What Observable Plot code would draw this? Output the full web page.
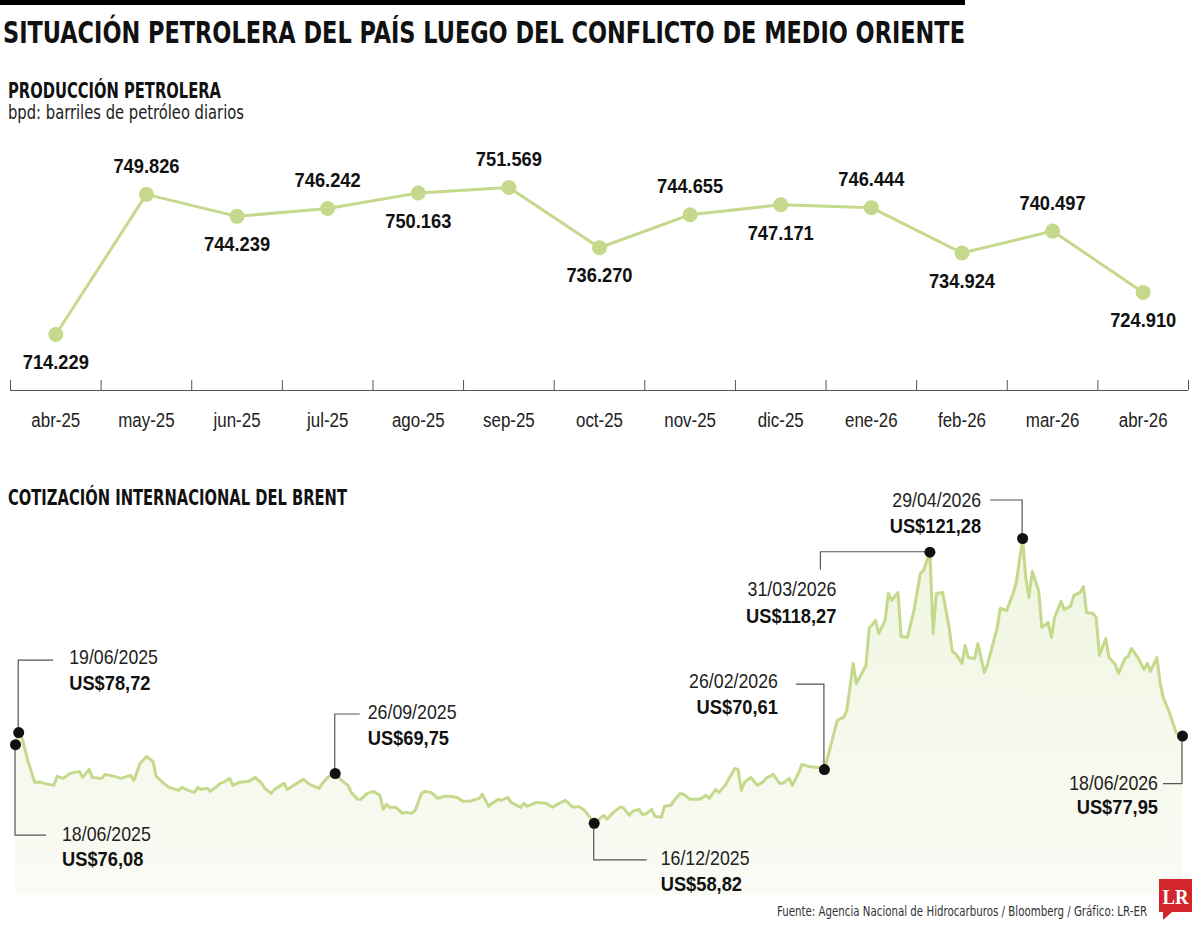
<!DOCTYPE html>
<html lang="es">
<head>
<meta charset="utf-8">
<title>Situación petrolera del país</title>
<script src="https://cdn.jsdelivr.net/npm/d3@7"></script>
<script src="https://cdn.jsdelivr.net/npm/@observablehq/plot@0.6"></script>
<style>
  html, body { margin: 0; padding: 0; background: #fff; }
  #chart { position: relative; width: 1200px; height: 929px; overflow: hidden; }
  #chart svg { position: absolute; left: 0; top: 0; }
</style>
</head>
<body>
<div id="chart"></div>
<script>
const HEAD_FONT = '"DejaVu Sans Condensed", "Liberation Sans Narrow", sans-serif';
const FONT = '"Liberation Sans", Arial, sans-serif';
const GREEN = "#c5d98c";
const INK = "#111";

// Monthly oil production, barrels per day
const months = ["abr-25", "may-25", "jun-25", "jul-25", "ago-25", "sep-25", "oct-25",
                "nov-25", "dic-25", "ene-26", "feb-26", "mar-26", "abr-26"];
const production = [714229, 749826, 744239, 746242, 750163, 751569, 736270,
                    744655, 747171, 746444, 734924, 740497, 724910];

// Brent quotes, US$ per barrel
const brentDates = [
  "2025-06-18","2025-06-19","2025-06-20","2025-06-22","2025-06-24","2025-06-26","2025-06-27","2025-06-30",
  "2025-07-01","2025-07-03","2025-07-05","2025-07-08","2025-07-09","2025-07-11","2025-07-12","2025-07-15",
  "2025-07-16","2025-07-19","2025-07-21","2025-07-22","2025-07-24","2025-07-25","2025-07-27","2025-07-29",
  "2025-07-31","2025-08-01","2025-08-03","2025-08-05","2025-08-08","2025-08-09","2025-08-11","2025-08-13",
  "2025-08-14","2025-08-15","2025-08-17","2025-08-18","2025-08-20","2025-08-21","2025-08-22","2025-08-24",
  "2025-08-25","2025-08-27","2025-08-30","2025-09-01","2025-09-03","2025-09-04","2025-09-06","2025-09-07",
  "2025-09-10","2025-09-11","2025-09-13","2025-09-16","2025-09-18","2025-09-21","2025-09-22","2025-09-24",
  "2025-09-26","2025-09-28","2025-09-30","2025-10-01","2025-10-03","2025-10-04","2025-10-06","2025-10-08",
  "2025-10-10","2025-10-11","2025-10-12","2025-10-13","2025-10-15","2025-10-17","2025-10-18","2025-10-20",
  "2025-10-21","2025-10-23","2025-10-24","2025-10-26","2025-10-28","2025-10-30","2025-11-01","2025-11-03",
  "2025-11-05","2025-11-07","2025-11-09","2025-11-10","2025-11-11","2025-11-13","2025-11-14","2025-11-16",
  "2025-11-17","2025-11-19","2025-11-20","2025-11-23","2025-11-24","2025-11-25","2025-11-28","2025-12-01",
  "2025-12-03","2025-12-05","2025-12-07","2025-12-09","2025-12-10","2025-12-11","2025-12-13","2025-12-16",
  "2025-12-19","2025-12-20","2025-12-22","2025-12-24","2025-12-25","2025-12-27","2025-12-28","2025-12-30",
  "2025-12-31","2026-01-01","2026-01-03","2026-01-04","2026-01-06","2026-01-07","2026-01-09","2026-01-10",
  "2026-01-12","2026-01-13","2026-01-15","2026-01-16","2026-01-18","2026-01-20","2026-01-21","2026-01-23",
  "2026-01-24","2026-01-26","2026-01-27","2026-01-29","2026-01-30","2026-01-31","2026-02-01","2026-02-03",
  "2026-02-05","2026-02-07","2026-02-08","2026-02-09","2026-02-10","2026-02-12","2026-02-13","2026-02-15",
  "2026-02-16","2026-02-18","2026-02-19","2026-02-21","2026-02-24","2026-02-26","2026-02-28","2026-03-02",
  "2026-03-04","2026-03-05","2026-03-07","2026-03-08","2026-03-11","2026-03-12","2026-03-14","2026-03-15",
  "2026-03-17","2026-03-18","2026-03-19","2026-03-21","2026-03-22","2026-03-24","2026-03-26","2026-03-28",
  "2026-03-29","2026-03-31","2026-04-01","2026-04-02","2026-04-04","2026-04-06","2026-04-07","2026-04-08",
  "2026-04-10","2026-04-11","2026-04-12","2026-04-14","2026-04-15","2026-04-17","2026-04-18","2026-04-20",
  "2026-04-21","2026-04-22","2026-04-24","2026-04-26","2026-04-27","2026-04-29","2026-04-30","2026-05-01",
  "2026-05-02","2026-05-04","2026-05-05","2026-05-07","2026-05-08","2026-05-09","2026-05-11","2026-05-12",
  "2026-05-14","2026-05-15","2026-05-17","2026-05-18","2026-05-19","2026-05-21","2026-05-22","2026-05-23",
  "2026-05-25","2026-05-26","2026-05-28","2026-05-29","2026-05-31","2026-06-01","2026-06-02","2026-06-04",
  "2026-06-06","2026-06-07","2026-06-08","2026-06-10","2026-06-11","2026-06-12","2026-06-14","2026-06-16",
  "2026-06-18"
];
const brentValues = [
  76.08, 78.72, 77.67, 72.19, 67.81, 67.81, 67.59, 67.15,
  69.12, 68.68, 69.78, 70.22, 68.90, 70.66, 68.90, 68.68,
  69.56, 69.12, 68.68, 68.90, 69.34, 68.24, 71.97, 73.50,
  72.41, 69.12, 67.81, 66.71, 66.05, 66.71, 66.05, 65.61,
  66.71, 66.27, 66.49, 65.83, 66.93, 67.59, 67.81, 68.68,
  67.15, 67.81, 68.03, 68.90, 67.59, 66.49, 65.40, 66.27,
  67.59, 66.27, 67.15, 68.46, 67.37, 66.49, 67.59, 69.12,
  69.75, 68.24, 67.15, 65.61, 64.08, 64.08, 65.40, 65.83,
  64.96, 61.89, 62.98, 62.33, 62.33, 61.01, 61.23, 61.01,
  61.67, 65.40, 65.83, 65.61, 64.30, 64.74, 64.74, 64.52,
  63.64, 63.64, 64.08, 64.30, 65.18, 62.55, 63.20, 64.08,
  63.86, 64.52, 63.42, 62.33, 63.20, 62.55, 63.42, 63.20,
  62.33, 63.20, 63.86, 62.55, 62.33, 62.55, 61.67, 58.82,
  60.57, 59.70, 61.23, 62.33, 62.33, 60.57, 61.45, 61.89,
  60.79, 60.79, 61.89, 60.35, 60.14, 62.55, 62.77, 63.86,
  65.40, 65.18, 64.08, 64.08, 64.08, 64.96, 64.30, 66.27,
  65.61, 67.15, 68.46, 70.87, 70.66, 66.05, 67.81, 68.90,
  67.15, 68.03, 68.90, 69.12, 69.56, 67.59, 67.59, 68.68,
  67.15, 70.00, 71.75, 71.31, 71.09, 70.61, 75.92, 81.39,
  82.05, 83.59, 93.89, 89.50, 93.45, 101.56, 103.31, 100.46,
  103.31, 109.23, 107.69, 109.45, 99.80, 99.58, 105.50, 113.61,
  114.27, 118.27, 100.46, 109.23, 109.45, 101.78, 96.52, 96.08,
  93.89, 97.83, 95.20, 94.98, 98.27, 91.91, 93.67, 98.93,
  101.56, 105.94, 105.50, 109.23, 111.64, 121.28, 112.50, 108.35,
  114.05, 109.88, 101.78, 102.87, 99.58, 103.97, 107.47, 105.72,
  106.38, 108.79, 109.45, 110.76, 105.06, 104.84, 103.97, 95.64,
  99.36, 95.20, 93.67, 91.69, 94.98, 95.42, 97.17, 95.20,
  92.57, 93.89, 92.13, 95.20, 89.50, 86.43, 82.93, 78.76,
  77.95
];

// Quotes picked out with a callout
const noteDates = ["2025-06-19", "2025-06-18", "2025-09-26", "2025-12-16",
                   "2026-02-26", "2026-03-31", "2026-04-29", "2026-06-18"];

// Callout geometry, in pixels from the marked quote: leader vertices,
// text offset (tx), date line centre (ty), price line centre (vy), alignment
const calloutLayout = {
  "2025-06-19": {path: [[0, -72], [35, -72]], tx: 51, ty: -76, vy: -50, anchor: "start"},
  "2025-06-18": {path: [[0, 91], [31, 91]], tx: 47, ty: 89, vy: 114, anchor: "start"},
  "2025-09-26": {path: [[0, -59], [25, -59]], tx: 33, ty: -62, vy: -36, anchor: "start"},
  "2025-12-16": {path: [[0, 37], [53, 37]], tx: 67, ty: 35, vy: 61, anchor: "start"},
  "2026-02-26": {path: [[0, -85], [-28, -85]], tx: -46, ty: -89, vy: -63, anchor: "end"},
  "2026-03-31": {path: [[-109, 0], [-109, 18]], tx: -93, ty: 37, vy: 64, anchor: "end"},
  "2026-04-29": {path: [[0, -38], [-32, -38]], tx: -41, ty: -39, vy: -13, anchor: "end"},
  "2026-06-18": {path: [[0, 48], [-19, 48]], tx: -24, ty: 47, vy: 71, anchor: "end"}
};

const es = d3.formatLocale({decimal: ",", thousands: ".", grouping: [3], currency: ["US$", ""]});
const fmtBpd = es.format(",");
const fmtUsd = es.format("$.2f");
const fmtDate = d3.utcFormat("%d/%m/%Y");

// Narrow the sans-serif labels to a condensed set width
function condense(svg) {
  svg.querySelectorAll("text").forEach((t) => {
    if (t.hasAttribute("textLength")) return;
    const bold = +getComputedStyle(t).fontWeight >= 600;
    const w = t.getComputedTextLength();
    t.setAttribute("textLength", (w * (bold ? 0.87 : 0.845)).toFixed(1));
    t.setAttribute("lengthAdjust", "spacingAndGlyphs");
  });
}

const chart = document.getElementById("chart");

// --- Producción petrolera -------------------------------------------------
const prod = months.map((m, i) => ({i, month: m, value: production[i]}));
const PROD_BASE = 700000;

const prodPlot = Plot.plot({
  width: 1200,
  height: 440,
  marginTop: 153.8,
  marginBottom: 50,
  marginLeft: 10,
  marginRight: 12,
  x: {domain: [0, months.length], axis: null},
  y: {domain: [PROD_BASE, 760000], axis: null},
  style: {background: "transparent", overflow: "visible", fontFamily: FONT},
  marks: [
    Plot.ruleY([PROD_BASE], {stroke: "#555", strokeWidth: 1}),
    Plot.ruleX(d3.range(months.length + 1), {x: (d) => d, y1: PROD_BASE, y2: PROD_BASE, insetTop: -10, stroke: "#555", strokeWidth: 1}),
    Plot.text(prod, {x: (d) => d.i + 0.5, y: PROD_BASE, text: "month", dy: 30, fontSize: 20, fill: "#222"}),
    Plot.line(prod, {x: (d) => d.i + 0.5, y: "value", stroke: GREEN, strokeWidth: 3}),
    Plot.dot(prod, {x: (d) => d.i + 0.5, y: "value", r: 7.5, fill: GREEN}),
    Plot.text(prod.filter((d) => d.i % 2 === 1), {x: (d) => d.i + 0.5, y: "value", text: (d) => fmtBpd(d.value), dy: -28, fontSize: 21, fontWeight: "bold", fill: INK}),
    Plot.text(prod.filter((d) => d.i % 2 === 0), {x: (d) => d.i + 0.5, y: "value", text: (d) => fmtBpd(d.value), dy: 28, fontSize: 21, fontWeight: "bold", fill: INK})
  ]
});
chart.appendChild(prodPlot);
condense(prodPlot);

// --- Cotización internacional del Brent ----------------------------------
const brent = brentDates.map((d, i) => ({key: d, date: new Date(d), value: brentValues[i]}));
const notes = noteDates.map((k) => brent.find((d) => d.key === k));
const BRENT_BASE = 43;

function gradientDefs() {
  const defs = d3.create("svg:defs");
  const g = defs.append("linearGradient").attr("id", "brentFill")
    .attr("x1", 0).attr("x2", 0).attr("y1", 0).attr("y2", 1);
  g.append("stop").attr("offset", "0%").attr("stop-color", "#f0f5e0");
  g.append("stop").attr("offset", "100%").attr("stop-color", "#fafbf5");
  return defs.node();
}

function callouts(index, scales) {
  const g = d3.create("svg:g").attr("font-family", FONT);
  for (const n of notes) {
    const L = calloutLayout[n.key];
    const px = scales.x(n.date), py = scales.y(n.value);
    const pts = [[0, 0], ...L.path].map(([dx, dy]) => [px + dx, py + dy]);
    g.append("path").attr("d", d3.line()(pts))
      .attr("fill", "none").attr("stroke", "#555").attr("stroke-width", 1.2);
    g.append("text").attr("x", px + L.tx).attr("y", py + L.ty)
      .attr("text-anchor", L.anchor).attr("dominant-baseline", "central")
      .attr("font-size", 21).attr("fill", "#222")
      .text(fmtDate(n.date));
    g.append("text").attr("x", px + L.tx).attr("y", py + L.vy)
      .attr("text-anchor", L.anchor).attr("dominant-baseline", "central")
      .attr("font-size", 21).attr("font-weight", "bold").attr("fill", INK)
      .text(fmtUsd(n.value));
  }
  return g.node();
}

const brentPlot = Plot.plot({
  width: 1200,
  height: 929,
  marginTop: 538,
  marginBottom: 34,
  marginLeft: 15,
  marginRight: 18,
  x: {type: "utc", domain: [new Date("2025-06-18"), new Date("2026-06-18")], axis: null},
  y: {domain: [BRENT_BASE, 121.28], axis: null},
  style: {background: "transparent", overflow: "visible", fontFamily: FONT},
  marks: [
    gradientDefs,
    Plot.areaY(brent, {x: "date", y1: BRENT_BASE, y2: "value", fill: "url(#brentFill)"}),
    Plot.lineY(brent, {x: "date", y: "value", stroke: GREEN, strokeWidth: 3, strokeLinejoin: "round"}),
    callouts,
    Plot.dot(notes, {x: "date", y: "value", r: 5.5, fill: INK})
  ]
});
chart.appendChild(brentPlot);
condense(brentPlot);

// --- Headings, source and logo -------------------------------------------
const overlay = d3.select(chart).append("svg")
  .attr("width", 1200).attr("height", 929)
  .attr("font-family", HEAD_FONT)
  .style("pointer-events", "none");

overlay.append("rect").attr("x", 0).attr("y", 0).attr("width", 965).attr("height", 5).attr("fill", "#000");

function heading(text, x, y, size, weight, length, anchor = "start", fill = INK) {
  overlay.append("text").attr("x", x).attr("y", y)
    .attr("font-size", size).attr("font-weight", weight).attr("fill", fill)
    .attr("text-anchor", anchor)
    .attr("textLength", length).attr("lengthAdjust", "spacingAndGlyphs")
    .text(text);
}
heading("SITUACIÓN PETROLERA DEL PAÍS LUEGO DEL CONFLICTO DE MEDIO ORIENTE", 3, 43, 30, "bold", 962);
heading("PRODUCCIÓN PETROLERA", 8, 98, 21, "bold", 213);
heading("bpd: barriles de petróleo diarios", 8, 119, 19.5, "normal", 236, "start", "#222");
heading("COTIZACIÓN INTERNACIONAL DEL BRENT", 8, 505, 21, "bold", 339);
heading("Fuente: Agencia Nacional de Hidrocarburos / Bloomberg / Gráfico: LR-ER", 1147, 916, 14.5, "normal", 370, "end", "#333");

// LR speech-bubble logo
const logo = overlay.append("g");
logo.append("path")
  .attr("d", "M1159,879 H1192 V912 H1172 L1163,920 V912 H1159 Z")
  .attr("fill", "#d3262b");
logo.append("text").attr("x", 1175.5).attr("y", 904)
  .attr("text-anchor", "middle").attr("font-family", '"Liberation Serif", "DejaVu Serif", serif')
  .attr("font-weight", "bold").attr("font-size", 22).attr("fill", "#fff")
  .attr("textLength", 26).attr("lengthAdjust", "spacingAndGlyphs")
  .text("LR");
</script>
</body>
</html>
